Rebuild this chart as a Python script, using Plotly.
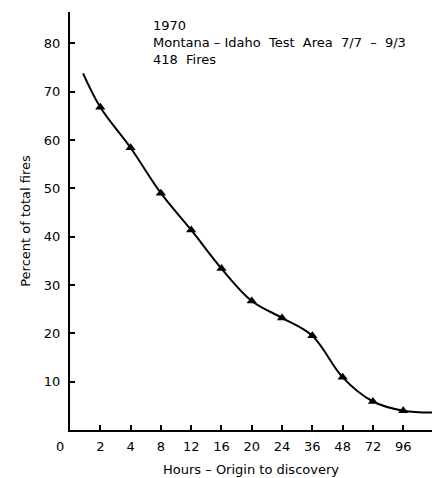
import plotly.graph_objects as go

tick_labels = ["2", "4", "8", "12", "16", "20", "24", "36", "48", "72", "96"]
tick_pos = [1, 2, 3, 4, 5, 6, 7, 8, 9, 10, 11]
percent = [66.8, 58.4, 49.0, 41.4, 33.4, 26.7, 23.2, 19.5, 10.9, 5.9, 4.0]

# smooth curve: extends slightly beyond first/last observed point
curve_x = [0.43] + tick_pos + [11.95]
curve_y = [73.8] + percent + [3.6]

font = "DejaVu Sans"
W, H = 445, 478
OFF = 8  # page body margin
L, T = 70 - OFF, 12 - OFF
R = W - (432 - OFF)
B = H - (430 - OFF)

fig = go.Figure()
fig.add_trace(go.Scatter(x=curve_x, y=curve_y, mode="lines",
                         line=dict(color="black", width=2, shape="spline", smoothing=1.0),
                         hoverinfo="skip", showlegend=False))
fig.add_trace(go.Scatter(x=tick_pos, y=percent, mode="markers",
                         marker=dict(symbol="triangle-up", size=9, color="black"),
                         showlegend=False))

fig.update_layout(
    width=W, height=H,
    margin=dict(l=L, r=R, t=T, b=B),
    paper_bgcolor="white", plot_bgcolor="white",
    font=dict(family=font, color="black", size=12),
    xaxis=dict(range=[0, 11.95], tickvals=tick_pos, ticktext=tick_labels,
               showline=True, linecolor="black", linewidth=2, automargin=False,
               ticks="inside", ticklen=5, tickwidth=1.5, tickcolor="black",
               ticklabelstandoff=3,
               showgrid=False, zeroline=False,
               tickfont=dict(size=13, family=font, color="black"),
               title=dict(text="Hours – Origin to discovery", font=dict(size=13, family=font, color="black"), standoff=12)),
    yaxis=dict(range=[0, 86.5], tickvals=[10, 20, 30, 40, 50, 60, 70, 80],
               showline=True, linecolor="black", linewidth=2, automargin=False,
               ticks="inside", ticklen=5, tickwidth=1.5, tickcolor="black",
               ticklabelstandoff=5,
               showgrid=False, zeroline=False,
               tickfont=dict(size=13, family=font, color="black"),
               title=dict(text="Percent of total fires", font=dict(size=13, family=font, color="black"), standoff=10)),
    annotations=[
        dict(x=0, y=0, xref="x", yref="y", text="0", showarrow=False,
             xshift=-10, yshift=-16, font=dict(size=13, family=font, color="black")),
        dict(x=(151 - 70) / (432 - 70), y=1 - (16 - 12) / (430 - 12),
             xref="paper", yref="paper", xanchor="left", yanchor="top",
             text="1970<br>Montana – Idaho  Test  Area  7/7  –  9/3<br>418  Fires",
             align="left", showarrow=False, font=dict(size=13, family=font, color="black")),
    ],
)

fig.write_html("out.html")
